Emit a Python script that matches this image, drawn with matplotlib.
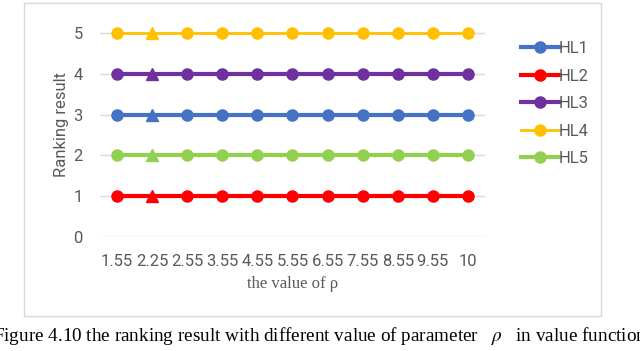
import matplotlib
matplotlib.use("Agg")
import matplotlib.pyplot as plt
from matplotlib.patches import Rectangle

rho = ["1.55", "2.25", "2.55", "3.55", "4.55", "5.55", "6.55", "7.55", "8.55", "9.55", "10"]
hl1 = [3] * 11
hl2 = [1] * 11
hl3 = [4] * 11
hl4 = [5] * 11
hl5 = [2] * 11

series = [
    ("HL1", hl1, "#4472C4", 3.0),
    ("HL2", hl2, "#FF0000", 3.0),
    ("HL3", hl3, "#7030A0", 3.0),
    ("HL4", hl4, "#FFC000", 2.0),
    ("HL5", hl5, "#92D050", 3.0),
]

plt.rcParams["mathtext.fontset"] = "stix"
gray = "#595959"
sans = ["Liberation Sans Narrow", "Roboto", "DejaVu Sans"]
serif = ["Liberation Serif", "DejaVu Serif"]

fig = plt.figure(figsize=(6.4, 3.51), dpi=100)
ax = fig.add_axes([0.1555, 0.325, 0.603, 0.638])

x = list(range(len(rho)))
circles = [i for i in x if i != 1]
for name, vals, col, lw in series:
    ax.plot(x, vals, color=col, lw=lw, marker="o", ms=8, markevery=circles,
            label=name, zorder=3)
    # the second point is drawn as a triangle
    ax.plot(x[1], vals[1], marker="^", ms=8, color=col, zorder=4)

ax.set_xlim(-0.5, len(rho) - 0.5)
ax.set_ylim(0, 5.5)
ax.set_yticks(range(6))
ax.set_xticks(x)
ax.set_xticklabels(rho)
ax.grid(axis="y", color="#D9D9D9", lw=1)
ax.set_axisbelow(True)
for s in ax.spines.values():
    s.set_visible(False)
ax.tick_params(length=0, colors=gray, labelsize=12, pad=12)
for lab in ax.get_xticklabels() + ax.get_yticklabels():
    lab.set_family(sans)

ax.set_ylabel("Ranking result", color=gray, fontsize=12, family=sans, labelpad=3)
ax.set_xlabel("the value of ρ", color=gray, fontsize=12, family=serif, labelpad=5)

leg = fig.legend(loc="upper left", bbox_to_anchor=(0.79, 0.925), frameon=False,
                 prop={"family": sans, "size": 12}, handlelength=2.3,
                 handletextpad=0.0, labelspacing=0.75, markerscale=1.0)
for t in leg.get_texts():
    t.set_color(gray)

fig.patches.append(Rectangle((23.5 / 640, 1 - 316 / 351), (601 - 23.5) / 640, (316 - 2.5) / 351,
                             transform=fig.transFigure, fill=False, ec="#D9D9D9", lw=1))

fig.text(0.5, 1 - 336 / 351,
         "Figure 4.10 the ranking result with different value of parameter   $\\rho$   in value function",
         ha="center", va="center", fontsize=13.8, family=serif, color="black")

fig.savefig("out.png", dpi=100)
